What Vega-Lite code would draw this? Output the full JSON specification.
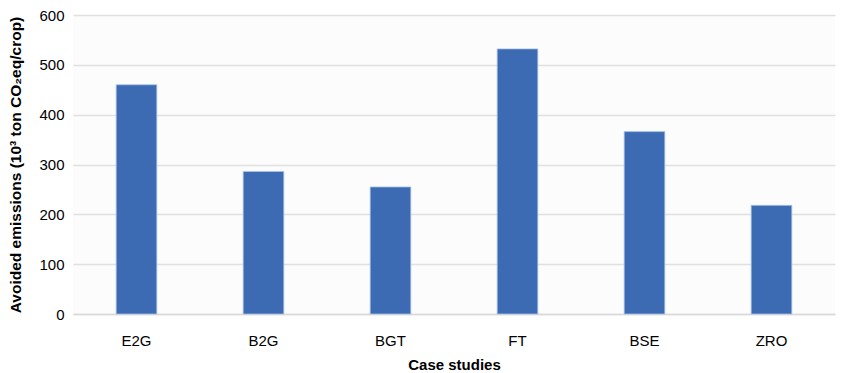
{
  "$schema": "https://vega.github.io/schema/vega-lite/v6.json",
  "width": 844,
  "height": 373,
  "autosize": {"type": "fit", "contains": "padding"},
  "padding": {"left": 8, "right": 9, "top": 8, "bottom": 1},
  "background": "white",
  "data": {"values": [
    {"case": "E2G", "value": 460},
    {"case": "B2G", "value": 286},
    {"case": "BGT", "value": 255},
    {"case": "FT", "value": 532},
    {"case": "BSE", "value": 366},
    {"case": "ZRO", "value": 218}
  ]},
  "config": {
    "font": "Liberation Sans",
    "view": {"stroke": null, "fill": "#fcfcfc"}
  },
  "mark": {"type": "bar", "color": "#3d6bb3", "stroke": "#a9c3ea", "strokeWidth": 0.8},
  "encoding": {
    "x": {
      "field": "case", "type": "nominal", "sort": null,
      "scale": {"paddingInner": 0.68, "paddingOuter": 0.34},
      "axis": {
        "title": "Case studies", "titleFontSize": 15, "titleFontWeight": "bold", "titleColor": "#000",
        "titlePadding": 9,
        "labelAngle": 0, "labelFontSize": 15, "labelColor": "#000", "labelPadding": 19,
        "ticks": false, "domainColor": "#d9d9d9", "domainWidth": 1.5
      }
    },
    "y": {
      "field": "value", "type": "quantitative",
      "scale": {"domain": [0, 600]},
      "axis": {
        "title": "Avoided emissions (10³ ton CO₂eq/crop)", "titleFontSize": 15.5, "titleFontWeight": "bold", "titleColor": "#000",
        "titlePadding": 15,
        "values": [0, 100, 200, 300, 400, 500, 600],
        "labelFontSize": 15, "labelColor": "#000", "labelPadding": 9,
        "ticks": false, "domain": false, "gridColor": "#e0e0e0", "gridWidth": 1.5
      }
    }
  }
}
